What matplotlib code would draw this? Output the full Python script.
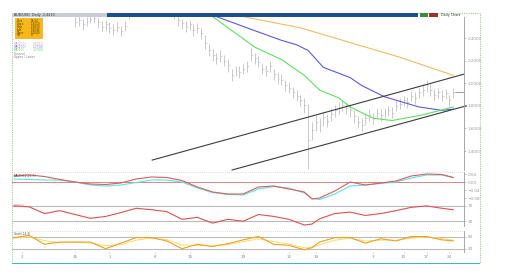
import numpy as np
import matplotlib
matplotlib.use("Agg")
import matplotlib.pyplot as plt
from matplotlib.patches import Rectangle

W, H = 522, 276

# price bars (bar index 0..99)
close = [2.54, 2.56, 2.52, 2.55, 2.57, 2.58, 2.54, 2.50, 2.52, 2.49, 2.47, 2.50, 2.46, 2.51,
         2.62, 2.66, 2.70, 2.68, 2.72, 2.75, 2.73, 2.70, 2.74, 2.71, 2.68, 2.65, 2.62,
         2.56, 2.53, 2.50, 2.52, 2.47, 2.49, 2.44,
         2.36, 2.29, 2.25, 2.22, 2.24, 2.20,
         2.16, 2.07, 2.11, 2.10, 2.13, 2.15, 2.25,
         2.22, 2.19, 2.13, 2.11, 2.15, 2.08, 2.04, 2.03,
         1.98, 1.96, 1.92, 1.89, 1.85, 1.81,
         1.50,
         1.59, 1.66, 1.63, 1.70, 1.67,
         1.73, 1.76, 1.78, 1.81, 1.78,
         1.76, 1.71, 1.66, 1.63, 1.69,
         1.72, 1.69, 1.74, 1.72, 1.74,
         1.76, 1.74, 1.80, 1.82, 1.85,
         1.83, 1.89, 1.87, 1.92, 1.94,
         1.98, 1.94, 1.90, 1.92,
         1.89, 1.91, 1.85, 1.92]
high = [2.59, 2.60, 2.57, 2.59, 2.61, 2.62, 2.58, 2.55, 2.56, 2.54, 2.52, 2.54, 2.51, 2.55,
        2.66, 2.70, 2.74, 2.72, 2.76, 2.79, 2.77, 2.75, 2.78, 2.75, 2.72, 2.69, 2.67,
        2.61, 2.57, 2.55, 2.56, 2.52, 2.53, 2.49,
        2.43, 2.35, 2.30, 2.27, 2.29, 2.25,
        2.21, 2.13, 2.15, 2.15, 2.17, 2.20, 2.31,
        2.27, 2.24, 2.18, 2.16, 2.20, 2.13, 2.09, 2.08,
        2.03, 2.01, 1.97, 1.94, 1.90, 1.87,
        1.82,
        1.66, 1.72, 1.69, 1.75, 1.73,
        1.78, 1.81, 1.83, 1.85, 1.83,
        1.81, 1.76, 1.71, 1.69, 1.74,
        1.77, 1.74, 1.78, 1.77, 1.78,
        1.80, 1.79, 1.84, 1.87, 1.89,
        1.88, 1.93, 1.92, 1.96, 1.99,
        2.03, 1.99, 1.95, 1.96,
        1.94, 1.95, 1.90, 1.96]
low = [2.50, 2.51, 2.47, 2.51, 2.53, 2.53, 2.49, 2.46, 2.47, 2.44, 2.43, 2.45, 2.42, 2.46,
       2.57, 2.61, 2.65, 2.63, 2.67, 2.70, 2.68, 2.65, 2.69, 2.66, 2.63, 2.60, 2.57,
       2.51, 2.48, 2.45, 2.47, 2.42, 2.44, 2.39,
       2.30, 2.24, 2.20, 2.17, 2.19, 2.15,
       2.10, 2.02, 2.06, 2.05, 2.08, 2.10, 2.20,
       2.17, 2.14, 2.08, 2.06, 2.10, 2.03, 1.99, 1.98,
       1.93, 1.91, 1.87, 1.84, 1.80, 1.74,
       1.24,
       1.50, 1.58, 1.57, 1.62, 1.61,
       1.67, 1.70, 1.73, 1.75, 1.73,
       1.70, 1.65, 1.60, 1.58, 1.63,
       1.67, 1.64, 1.69, 1.67, 1.69,
       1.71, 1.69, 1.75, 1.77, 1.80,
       1.78, 1.84, 1.82, 1.87, 1.89,
       1.92, 1.89, 1.85, 1.87,
       1.84, 1.86, 1.80, 1.87]

# moving averages (index, value)
ma200_x = [44, 59, 72, 85, 99]
ma200_y = [2.59, 2.49, 2.36, 2.23, 2.07]
ma100_x = [37, 45, 54, 58, 61, 65, 72, 75, 81, 90, 96, 99]
ma100_y = [2.59, 2.49, 2.38, 2.34, 2.29, 2.14, 2.05, 1.98, 1.88, 1.79, 1.76, 1.77]
ma50_x = [36, 47, 54, 60, 64, 69, 72, 78, 83, 91, 99]
ma50_y = [2.59, 2.32, 2.21, 2.07, 1.94, 1.87, 1.79, 1.69, 1.67, 1.72, 1.79]

# trend channel (index, value)
upper_x = [20.2, 101.8]
upper_y = [1.32, 2.08]
lower_x = [41.1, 102.4]
lower_y = [1.232, 1.80]

price_ticks = [1.40, 1.60, 1.80, 2.00, 2.20, 2.40]

# indicators, sampled on the same bar index
ind_x = [-16, -12, -8, -4, 0, 4, 8, 12, 16, 20, 24, 28, 32, 36, 40, 44, 48, 52,
         56, 60, 62, 64, 68, 72, 76, 80, 84, 88, 92, 96, 99]
macd = [0.030, 0.035, 0.0275, 0.0125, 0.0, -0.010, -0.0125, -0.005, 0.015, 0.025, 0.0225,
        0.0075, -0.025, -0.050, -0.060, -0.060, -0.025, -0.020, -0.035, -0.050, -0.085,
        -0.080, -0.045, 0.0, -0.015, -0.005, 0.005, 0.030, 0.040, 0.0375, 0.0225]
signal = [0.015, 0.0125, 0.010, 0.010, 0.0, -0.015, -0.020, -0.015, -0.0025, 0.010, 0.010,
          0.0, -0.030, -0.0525, -0.0625, -0.065, -0.035, -0.0225, -0.030, -0.055, -0.0825,
          -0.0875, -0.060, -0.020, -0.015, -0.0075, 0.0, 0.020, 0.035, 0.035, 0.0225]
rsi = [70, 67.5, 50, 57.5, 47.5, 37.5, 42.5, 52.5, 63.75, 60, 55, 35, 40, 25, 35, 30,
       47.5, 42.5, 35, 20, 22.5, 36.25, 50, 53.75, 45, 50, 57.5, 66.25, 70, 63.75, 60]
stoch_k = [74.5, 85.5, 41.8, 52.7, 52.7, 52.7, 20, 47.3, 74.5, 74.5, 58.2, 20, 41.8, 30.9,
           44.5, 63.6, 80, 41.8, 36.4, 14.5, 25.5, 52.7, 74.5, 74.5, 47.3, 69.1, 58.2, 80,
           80, 63.6, 58.2]
stoch_d = [72, 78, 60, 50, 52, 48, 35, 40, 62, 72, 65, 38, 36, 34, 40, 55, 68, 55, 42,
           25, 24, 40, 62, 72, 58, 62, 62, 72, 78, 70, 62]

date_ticks = [-14, 0, 9, 21, 30, 44, 56, 63, 78, 86, 92, 98]
date_labels = ["2", "16", "1", "8", "15", "29", "12", "19", "3", "10", "17", "24"]

XL = (-16.5, 101.8)


def ax_px(x0, y0, x1, y1):
    return fig.add_axes([x0 / W, 1 - y1 / H, (x1 - x0) / W, (y1 - y0) / H])


def style(ax, ylim):
    ax.set_xlim(*XL)
    ax.set_ylim(*ylim)
    for s in ["top", "bottom", "left"]:
        ax.spines[s].set_visible(False)
    ax.spines["right"].set_color("#9a9a9a")
    ax.spines["right"].set_linewidth(0.6)
    ax.yaxis.tick_right()
    ax.tick_params(axis="y", length=1.5, width=0.4, labelsize=3, colors="#999999", pad=1)
    ax.set_xticks([])
    ax.set_facecolor("white")


fig = plt.figure(figsize=(W / 100, H / 100), dpi=100)
fig.patch.set_facecolor("white")

# frame and header
fig.patches.append(Rectangle((12 / W, 1 - 263 / H), 468 / W, 250 / H, transform=fig.transFigure,
                             fill=False, ec="#a8c8a0", lw=0.8, ls=(0, (1, 1))))
fig.patches.append(Rectangle((12 / W, 1 - 17 / H), 95 / W, 4 / H, transform=fig.transFigure,
                             fc="#c8ccd4", ec="none"))
fig.patches.append(Rectangle((107 / W, 1 - 17 / H), 311 / W, 4 / H, transform=fig.transFigure,
                             fc="#1d4f8c", ec="none"))
fig.patches.append(Rectangle((420 / W, 1 - 17 / H), 8 / W, 4 / H, transform=fig.transFigure,
                             fc="#3a8a3a", ec="none"))
fig.patches.append(Rectangle((429 / W, 1 - 17 / H), 9 / W, 4 / H, transform=fig.transFigure,
                             fc="#a03030", ec="none"))
fig.patches.append(Rectangle((12 / W, 1 - 264 / H), 468 / W, 1.2 / H, transform=fig.transFigure,
                             fc="#40b8c0", ec="none"))
fig.text(14 / W, 1 - 15 / H, "AUD/USD  Daily  2.4210", fontsize=2.4, color="#333333", va="center")
fig.text(441 / W, 1 - 15 / H, "Daily Chart", fontsize=2.4, color="#333333", va="center")

# main price panel
ax = ax_px(12, 17, 464, 170)
style(ax, (1.232, 2.586))
ax.set_yticks(price_ticks)
ax.set_yticklabels(["%.4f" % v for v in price_ticks])
idx = np.arange(len(close))
ax.vlines(idx, low, high, color="#b4b4b4", lw=0.5)
ax.hlines(close, idx, idx + 0.5, color="#b4b4b4", lw=0.4)
ax.plot(ma200_x, ma200_y, color="#f0bc60", lw=0.8)
ax.plot(ma100_x, ma100_y, color="#5a5ae0", lw=0.8)
ax.plot(ma50_x, ma50_y, color="#60e060", lw=0.8)
ax.plot(upper_x, upper_y, color="#3c3c3c", lw=0.8, clip_on=False)
ax.plot(lower_x, lower_y, color="#3c3c3c", lw=0.8, clip_on=False)
ax.hlines(close[-1], 99.5, 101.8, color="#9a80c0", lw=0.6)
ax.axhline(1.232, color="#bbbbbb", lw=0.5, ls=(0, (1, 2)))

# info box and legend (top left)
fig.patches.append(Rectangle((15 / W, 1 - 38 / H), 27 / W, 20 / H, transform=fig.transFigure,
                             fc="#f7b718", ec="#e0a000", lw=0.4))
info = [("Date", "09/24"), ("Open", "1.9210"), ("High", "1.9630"), ("Low", "1.8540"),
        ("Close", "1.9240"), ("Vol", "0")]
for k, (a, b) in enumerate(info):
    yy = 1 - (21 + k * 2.9) / H
    fig.text(17 / W, yy, a, fontsize=2, color="#5a3a00", va="center")
    fig.text(31 / W, yy, b, fontsize=2, color="#5a3a00", va="center")
leg = [("MA(200)", "2.0710", "#e8a0b0"), ("MA(100)", "1.7700", "#8080e0"),
       ("MA(50)", "1.7900", "#70d070")]
for k, (a, b, c) in enumerate(leg):
    yy = 1 - (44 + k * 3) / H
    fig.text(14 / W, yy, a, fontsize=2.2, color=c, va="center")
    fig.text(33 / W, yy, b, fontsize=2.2, color=c, va="center")
fig.text(14 / W, 1 - 54 / H, "Channel", fontsize=2.2, color="#888888", va="center")
fig.text(14 / W, 1 - 57 / H, "Upper / Lower", fontsize=2.2, color="#888888", va="center")

# panel 1: MACD
ax1 = ax_px(12, 172, 464, 202)
style(ax1, (-0.10, 0.05))
ax1.set_yticks([-0.08, -0.04, 0.0, 0.04])
ax1.axhline(0, color="#e07070", lw=0.6)
ax1.plot(ind_x, signal, color="#50e8e8", lw=0.8)
ax1.plot(ind_x, macd, color="#e05a5a", lw=0.8)
ax1.axhline(0.05, color="#bbbbbb", lw=0.5, ls=(0, (1, 2)))
ax1.axhline(-0.10, color="#bbbbbb", lw=0.5, ls=(0, (1, 2)))
ax1.text(-16, 0.042, "MACD(12,26,9)", fontsize=2.2, color="#555555", va="top")

# panel 2: RSI
ax2 = ax_px(12, 203, 464, 226)
style(ax2, (17.5, 77.5))
ax2.set_yticks([30, 70])
ax2.axhline(70, color="#bbbbbb", lw=0.8)
ax2.axhline(30, color="#bbbbbb", lw=0.8)
ax2.plot(ind_x, rsi, color="#e05050", lw=0.8)
ax2.axhline(17.5, color="#bbbbbb", lw=0.5, ls=(0, (1, 2)))
ax2.text(-16, 74, "RSI(14)", fontsize=2.2, color="#e07070", va="top")

# panel 3: Stochastic
ax3 = ax_px(12, 231, 464, 252)
style(ax3, (3.6, 107.3))
ax3.set_yticks([20, 80])
ax3.axhline(80, color="#bbbbbb", lw=0.8)
ax3.axhline(20, color="#bbbbbb", lw=0.8)
ax3.plot(ind_x, stoch_d, color="#f0e070", lw=0.7)
ax3.plot(ind_x, stoch_k, color="#f0a020", lw=0.8)
ax3.axhline(107.3, color="#bbbbbb", lw=0.5, ls=(0, (1, 2)))
ax3.text(-16, 104, "Stoch(14,3)", fontsize=2.2, color="#555555", va="top")
ax3.set_xticks(date_ticks)
ax3.set_xticklabels(date_labels)
ax3.tick_params(axis="x", length=1, width=0.4, labelsize=3, colors="#888888", pad=1)

fig.savefig("out.png", dpi=100)
